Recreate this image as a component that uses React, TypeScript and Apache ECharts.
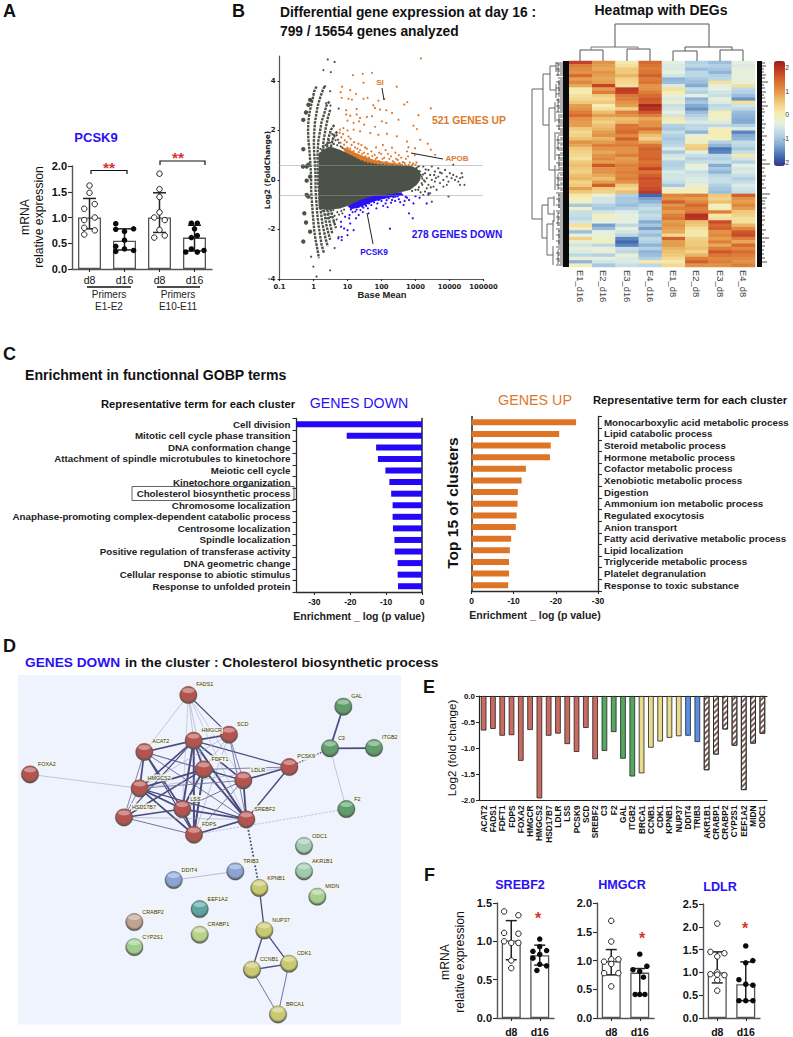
import React, { useEffect, useRef } from "react";
import * as echarts from "echarts";

const FONT = '"Liberation Sans", Arial, sans-serif';
const BLUE = "#2a10f5";
const ORANGE = "#dc7a2c";
const RED = "#d8352a";
const DARK = "#2b2b2b";

/* ---------- A ---------- */
const pcsk9Cats = ["d8", "d16", "d8", "d16"];
const pcsk9Bars = [1.0, 0.55, 1.0, 0.61];
const pcsk9Err = [[0.78, 1.37], [0.37, 0.78], [0.71, 1.48], [0.35, 0.85]];
const pcsk9Open = [[0, 1.62], [0, 1.48], [0.15, 1.26], [-0.15, 1.17], [0.15, 1.0], [-0.15, 0.95], [-0.15, 0.8], [0.15, 0.75], [-0.15, 0.67],
  [2, 1.85], [2, 1.55], [2, 1.4], [2, 1.1], [1.85, 1.0], [2.15, 0.95], [2, 0.76], [1.85, 0.61], [2.15, 0.65]];
const pcsk9Solid = [[0.75, 0.88], [0.75, 0.77], [1.26, 0.78], [1, 0.73], [1, 0.56], [0.75, 0.44], [0.75, 0.34], [1, 0.39], [1.26, 0.36],
  [2.91, 0.89], [3.08, 0.89], [3, 0.78], [2.91, 0.61], [3.08, 0.65], [2.91, 0.39], [2.75, 0.33], [3.08, 0.33], [3.27, 0.36]];

/* ---------- B : MA plot, [log10(baseMean), log2FC] ---------- */
const maTicks = ["0.1", "1", "10", "100", "1000", "10000", "100000"];
const cloudUpper = [[0.15, 1.08], [0.29, 1.22], [0.49, 1.35], [0.78, 1.22], [1.08, 1.01], [1.37, 0.81], [1.86, 0.65], [2.35, 0.61], [2.84, 0.57], [3.04, 0.47], [3.14, 0.27]];
const cloudLower = [[3.14, 0], [3.04, -0.2], [2.84, -0.41], [2.35, -0.57], [1.76, -0.65], [1.37, -0.81], [1.08, -1.01], [0.78, -1.15], [0.39, -1.22], [0.15, -1.15]];
const orangeWedge = [[0.85, 1.3], [1.0, 1.28], [1.2, 1.12], [1.5, 0.94], [1.8, 0.8], [2.2, 0.7], [2.6, 0.64], [2.6, 0.5], [1.5, 0.6], [1.0, 0.9]];
const blueWedge = [[1.0, -1.05], [1.1, -1.18], [1.3, -1.12], [1.5, -1.02], [1.8, -0.86], [2.2, -0.72], [2.6, -0.63], [2.6, -0.5], [1.5, -0.6]];
const streak1 = [[0.09, 3.77], [0.02, 3.57], [-0.03, 3.23], [-0.08, 2.96], [-0.12, 2.69], [-0.15, 2.36], [-0.16, 2.02], [-0.15, 1.62], [-0.12, 1.21], [-0.1, 0.81], [-0.08, 0.4], [-0.07, -0.03], [-0.07, -0.4], [-0.05, -0.81], [-0.03, -1.21], [-0.005, -1.62], [0.02, -2.02], [0.06, -2.42], [0.12, -2.83], [0.16, -3.16]];
const streak2 = [[0.32, 3.77], [0.24, 3.5], [0.16, 3.16], [0.12, 2.96], [0.08, 2.63], [0.04, 2.29], [0.02, 1.89], [0.01, 1.48], [0.02, 1.08], [0.04, 0.67], [0.06, 0.13], [0.06, -0.4], [0.08, -0.81], [0.11, -1.35], [0.14, -1.75], [0.19, -2.22], [0.24, -2.63], [0.31, -2.96]];
const streak3 = [[0.47, 3.16], [0.39, 3.03], [0.32, 2.69], [0.24, 2.36], [0.19, 1.95], [0.14, 1.55], [0.12, 1.08], [0.12, 0.54], [0.14, -0.13], [0.17, -0.67], [0.21, -1.21], [0.26, -1.75], [0.34, -2.29], [0.42, -2.69]];
const streak4 = [[0.49, 2.83], [0.42, 2.49], [0.36, 2.09], [0.3, 1.62], [0.26, 1.08], [0.26, 0.2], [0.26, -0.67], [0.32, -1.35], [0.39, -1.89], [0.49, -2.42]];
const streak5 = [[0.61, 2.22], [0.51, 2.02], [0.44, 1.68], [0.39, 1.21], [0.39, -1.08], [0.46, -1.62], [0.55, -2.15]];
const streak6 = [[0.7, 1.95], [0.6, 1.8], [0.53, 1.45], [0.5, 1.2], [0.5, -1.2], [0.57, -1.55], [0.66, -1.95]];
const maBlobs = [[-0.3, 1.24], [-0.31, 0.54], [-0.2, 0.54], [-0.15, 0.61], [-0.2, -0.03], [-0.2, -0.61], [-0.15, -0.67], [-0.27, -1.35], [-0.22, -1.72], [-0.1, -2.09], [-0.3, -2.49], [-0.3, 2.42], [-0.22, 2.72], [-0.15, 3.03], [-0.1, 3.23], [-0.1, 0.13]];
const maGrey = [
  [-0.07, -3.1], [-0.005, -3.5], [0.09, -3.9],
  [0.42, 4.86], [0.62, 4.76], [0.29, 4.43], [0.51, 4.35], [0.34, 3.78], [0.49, 3.58], [0.37, 3.1], [0.74, 2.88], [0.49, -3.65], [0.62, -2.75], [0.74, -2.3], [0.5, 3.0],
  [3.13, 0.34], [3.18, 0.13], [3.18, -0.13], [3.23, 0.54], [3.28, 0.27], [3.28, -0.07], [3.33, 0.07], [3.33, -0.34], [3.38, 0.4], [3.38, -0.2], [3.43, 0.2], [3.43, -0.54], [3.48, 0.54], [3.48, 0], [3.53, -0.27], [3.57, 0.34], [3.57, -0.07], [3.62, -0.4], [3.67, 0.47], [3.67, 0.13], [3.72, -0.13], [3.77, 0.27], [3.82, 0], [3.82, -0.27], [3.87, 0.4], [3.92, 0.13], [3.97, -0.07], [4.01, 0.27], [4.06, 0.07], [4.11, 0.61], [4.11, 0.2], [4.16, 0], [4.21, 0.13], [4.26, -0.07], [4.31, 0.07], [4.36, 0.27], [4.38, 0.11], [4.44, -0.2], [4.31, -0.2], [3.97, -0.67], [3.48, -0.88], [3.38, -0.54], [3.28, -0.47], [3.23, -0.61], [3.1, 0.55], [3.15, -0.5], [3.55, 0.2], [3.72, 0.3], [3.92, -0.2], [3.3, 0.42], [3.6, 0.08], [3.45, -0.3],
  [0.55, 1.55], [0.6, 1.45], [0.65, 1.6], [0.7, 1.4], [0.75, 1.5], [0.8, 1.35], [0.85, 1.3], [0.45, 1.6], [0.4, 1.45], [0.35, 1.4], [0.55, 1.85], [0.62, 1.75], [0.68, 1.8], [0.48, 1.5], [0.58, 1.65], [0.72, 1.62], [0.3, 1.3], [0.25, 1.2], [0.2, 1.25], [0.27, -1.25], [0.22, -1.3],
  [0.45, -1.35], [0.5, -1.5], [0.55, -1.35], [0.62, -1.45], [0.7, -1.3], [0.75, -1.4], [0.82, -1.25], [0.9, -1.2], [0.6, -1.7], [0.68, -1.6], [0.36, -1.4], [0.4, -1.55], [0.58, -1.22], [0.85, -1.35],
  [2.9, 0.5], [3.0, 0.45], [3.1, 0.35], [3.15, 0.2], [3.2, 0.05], [3.2, -0.2], [3.1, -0.3], [3.0, -0.4], [2.9, -0.45], [3.05, 0.5], [3.12, 0.1], [3.22, 0.22], [3.25, -0.02], [3.08, -0.4]
];
const maOrange = [[3.16, 4.9], [1.16, 4.23], [1.45, 4.28], [1.72, 4.32], [1.47, 3.92], [2.45, 3.76], [0.84, 3.76], [0.8, 3.54], [1.08, 3.62], [1.25, 3.47], [0.83, 3.31], [1.03, 3.27], [1.13, 3.24], [1.47, 3.27], [1.59, 3.31], [1.91, 3.2], [2.08, 3.27], [2.67, 3.04], [2.76, 3.14], [1.76, 3.01], [1.81, 2.9], [1.96, 2.84], [2.14, 2.81], [2.31, 2.7], [3.45, 2.89], [3.09, 2.61], [0.96, 2.81], [1.27, 2.86], [0.96, 2.64], [1.08, 2.59], [1.27, 2.64], [1.37, 2.5], [1.57, 2.54], [1.72, 2.57], [2.01, 2.36], [2.14, 2.3], [2.5, 2.43], [2.94, 2.19], [3.04, 2.05], [1.0, 2.39], [1.18, 2.3], [1.34, 2.36], [1.49, 2.23], [1.81, 2.14], [0.78, 2.03], [0.88, 2.09], [1.0, 2.0], [1.18, 2.03], [1.37, 1.96], [1.67, 1.89], [1.91, 1.82], [2.16, 1.86], [2.45, 1.76], [2.75, 1.55], [3.14, 1.62], [3.36, 1.46], [3.45, 1.22], [3.58, 1.01], [2.99, 1.28], [2.79, 1.32], [2.75, 1.15],
  [0.8, 1.5], [0.82, 1.72], [0.77, 1.9], [0.9, 1.42], [0.92, 1.6], [0.87, 1.85], [1.0, 1.3], [0.98, 1.52], [1.03, 1.75], [1.1, 1.12], [1.08, 1.26], [1.12, 1.41], [1.09, 1.66], [1.2, 1.02], [1.18, 1.16], [1.22, 1.31], [1.19, 1.52], [1.3, 0.91], [1.27, 1.01], [1.33, 1.12], [1.29, 1.26], [1.32, 1.46], [1.4, 0.82], [1.38, 0.91], [1.43, 1.05], [1.37, 1.2], [1.41, 1.41], [1.5, 0.76], [1.47, 0.86], [1.53, 0.95], [1.49, 1.1], [1.52, 1.31], [1.6, 0.72], [1.58, 0.81], [1.63, 0.9], [1.6, 1.05], [1.57, 1.26], [1.7, 0.7], [1.68, 0.8], [1.73, 0.96], [1.7, 1.15], [1.8, 0.68], [1.78, 0.75], [1.83, 0.85], [1.8, 1.01], [1.84, 1.31], [1.9, 0.66], [1.92, 0.76], [1.87, 0.9], [1.93, 1.1], [2.0, 0.65], [1.98, 0.72], [2.03, 0.85], [1.99, 1.05], [2.04, 1.41], [2.1, 0.64], [2.13, 0.72], [2.08, 0.9], [2.12, 1.2], [2.2, 0.63], [2.18, 0.7], [2.23, 0.85], [2.19, 1.05], [2.3, 0.63], [2.33, 0.75], [2.28, 0.95], [2.31, 1.3], [2.4, 0.62], [2.38, 0.7], [2.43, 0.85], [2.41, 1.1], [2.5, 0.62], [2.53, 0.68], [2.48, 0.8], [2.51, 1.0], [2.6, 0.62], [2.63, 0.72], [2.58, 0.9], [2.7, 0.6], [2.68, 0.68], [2.72, 0.85], [2.8, 0.6], [2.83, 0.7], [2.78, 0.95], [2.9, 0.6], [2.93, 0.66], [3.0, 0.6], [3.03, 0.7], [2.98, 1.0]];
const maBlue = [[0.81, -1.69], [0.81, -1.89], [0.9, -1.96], [1.0, -2.03], [0.83, -2.3], [1.0, -2.23], [0.73, -2.36], [0.83, -2.43], [1.18, -2.03], [1.08, -1.76], [0.93, -1.49], [1.06, -1.42], [1.23, -1.28], [1.33, -1.42], [1.43, -1.08], [1.53, -1.01], [1.63, -0.95], [1.72, -0.81], [1.82, -0.68], [1.92, -0.81], [2.02, -0.7], [2.12, -0.95], [2.21, -0.74], [2.31, -0.81], [2.41, -0.68], [2.51, -0.78], [2.61, -0.61], [2.71, -0.68], [2.81, -0.81], [2.94, -0.95], [2.65, -1.01], [2.81, -1.35], [2.92, -1.55], [3.33, -0.95], [3.38, -0.61], [2.25, -1.97], [3.0, -0.66], [3.12, -0.72],
  [1.1, -1.2], [1.15, -1.3], [1.2, -1.1], [1.25, -1.05], [1.27, -1.2], [1.3, -0.95], [1.32, -1.1], [1.35, -0.9], [1.38, -1.0], [1.38, -1.22], [1.42, -0.85], [1.45, -0.95], [1.47, -1.12], [1.5, -0.82], [1.52, -0.92], [1.55, -1.05], [1.57, -0.78], [1.6, -0.88], [1.6, -1.15], [1.65, -0.75], [1.68, -0.85], [1.7, -1.02], [1.75, -0.72], [1.78, -0.9], [1.85, -0.75], [1.88, -0.95], [1.95, -0.68], [2.0, -0.85], [2.05, -1.05], [2.08, -0.72], [2.15, -0.82], [2.18, -1.1], [2.25, -0.66], [2.28, -0.92], [2.35, -0.7], [2.4, -0.85], [2.48, -0.66], [2.55, -0.9], [2.68, -0.85], [2.75, -0.72], [1.05, -1.55], [1.25, -1.55], [1.45, -1.3], [1.85, -1.15], [1.62, -1.35]];

/* ---------- B : heatmap ---------- */
const hmCols = ["E1_d16", "E2_d16", "E3_d16", "E4_d16", "E1_d8", "E2_d8", "E3_d8", "E4_d8"];
const hmRows = [
  [1.8, 1.0, 0.1, 1.4, -0.4, -0.9, -1.1, -0.4], [1.2, 0.9, 0.2, 1.3, -0.5, -0.8, -0.9, -0.5], [1.1, 0.8, 0.5, 1.2, -0.5, -1.1, -1.0, -0.3], [1.0, 1.0, 0.5, 1.3, -0.4, -0.8, -1.2, -0.4],
  [1.4, 0.9, 0.7, 1.5, -0.6, -0.8, -0.9, -0.3], [0.9, 0.8, 0.4, 1.2, -1.2, -1.0, -0.8, -0.4], [1.1, 0.9, 0.3, 1.3, -1.1, -1.1, 0.2, -0.3], [0.8, 1.8, 0.2, 1.0, -0.5, -1.3, -0.3, 0.2],
  [0.1, 0.9, 1.9, 1.0, 0.2, -0.7, -0.4, -0.8], [0.0, 1.2, 1.8, 1.2, 0.0, -0.9, -0.6, -0.9], [0.2, 0.5, 1.3, 1.4, -0.3, -0.4, -0.7, -1.1], [0.3, 0.3, 1.2, 1.6, -0.5, -1.2, -0.3, -1.5],
  [0.5, 0.5, 1.0, 1.5, -0.2, -1.0, -0.5, 0.2], [0.9, 0.0, 0.9, 2.1, -0.7, -1.3, -0.8, -0.6], [1.0, 0.2, 0.4, 2.0, -0.6, -1.5, -0.7, -0.8], [1.2, 0.6, 1.2, 1.6, -0.3, -1.1, 0.0, -1.1],
  [1.4, 0.9, 1.0, 1.2, -0.6, -0.9, -0.2, -1.2], [1.0, 0.6, 0.6, 0.8, 0.1, -0.7, -0.1, -1.3], [0.9, 0.4, 0.7, 1.0, -0.2, -0.5, -0.5, -1.3], [0.9, 0.6, 1.3, 1.0, -0.9, -0.8, -0.8, -0.9],
  [0.5, 0.7, 1.3, 1.4, -1.0, -0.8, -0.1, -0.5], [0.3, 0.9, 1.4, 0.9, -0.7, -1.2, 0.0, -1.6], [0.4, 1.0, 1.1, 0.6, -0.9, -0.3, 0.0, -1.3], [0.6, 0.7, 1.5, 0.4, -1.0, -0.1, -0.1, -1.2],
  [1.0, 0.9, 1.1, 0.8, -0.9, -0.2, -0.9, -0.7], [0.8, 1.2, 1.2, 1.3, -0.8, 0.4, -1.2, -0.8], [0.5, 1.0, 1.0, 1.5, -0.5, 0.5, -1.7, -1.0], [0.4, 0.8, 1.0, 1.4, -1.0, -0.4, -1.6, -0.7],
  [0.3, 1.0, 1.2, 1.4, -0.6, -0.7, -0.8, 0.1], [0.2, 1.1, 0.9, 1.5, -0.5, -0.9, -0.9, -0.6], [0.5, 0.9, 1.0, 1.3, -0.9, -0.7, -0.7, -0.9], [0.6, 1.6, 1.2, 1.4, -0.9, -0.3, -1.3, -0.4],
  [0.5, 1.0, 1.1, 1.8, -0.8, -0.4, -1.0, -0.6], [0.4, 1.0, 1.2, 1.3, -0.5, -0.7, -1.2, -0.5], [0.6, 0.8, 1.1, 1.5, -0.6, -0.6, -0.8, -0.7], [0.7, 0.6, 1.2, 1.7, -0.6, -0.5, -0.7, -0.9],
  [0.4, 0.9, 1.0, 1.6, -0.7, -0.5, -0.7, -0.7], [0.5, 1.5, 0.5, 1.6, -1.0, -0.3, -0.9, -0.5], [0.9, 0.5, 0.3, 1.7, -0.3, 0.0, -1.0, -0.6], [0.5, 0.4, 0.6, 1.9, 0.0, -0.1, -1.1, -0.7],
  [0.1, -0.3, -0.9, -1.8, 1.1, 1.2, 0.5, 1.5], [-0.1, -0.6, -1.0, -1.4, 1.0, 0.9, 0.4, 1.0], [-0.1, -0.6, -1.0, -1.2, 1.5, 1.1, 0.6, 0.9], [-1.0, -0.9, -1.1, -0.9, 1.0, 1.4, -0.1, 1.1],
  [-0.2, -1.0, -0.9, -0.7, 1.2, 1.2, 0.0, 0.9], [-0.7, -0.6, -0.5, -0.9, 0.9, 1.3, 1.2, 0.5], [-0.7, -0.1, -0.4, -0.7, 1.2, 2.0, 0.1, 0.4], [-0.8, -0.2, -0.3, -0.8, 1.3, 1.9, 0.2, 0.2],
  [-0.6, -0.4, -0.4, -1.3, 0.9, 0.6, 1.7, 0.2], [0.2, -1.4, -0.8, -1.0, 1.0, 0.5, 1.4, 0.7], [-0.1, -1.1, -0.3, -1.4, 0.9, 0.2, 1.5, 1.1], [-1.1, -0.4, -0.6, -0.9, 0.8, 0.1, 1.0, 1.6],
  [-0.4, -0.3, -0.8, -1.1, 0.3, 0.1, 1.1, 1.7], [0.4, -0.2, -1.6, -0.8, 1.5, 0.4, 0.9, 1.2], [-0.3, -0.1, -1.8, -0.9, 0.9, 0.5, 1.2, 0.8], [-0.6, -0.8, -1.6, -1.2, 0.9, 0.5, 0.8, 1.4],
  [-0.3, -0.4, -0.7, -0.9, 0.7, 0.6, 1.2, 1.1], [-0.5, -0.2, -0.8, -1.2, 0.6, 0.4, 1.6, 1.4], [-0.8, -0.9, -0.3, -1.1, 0.5, 0.7, 1.3, 1.2], [-0.3, -0.4, -0.5, -0.9, 0.3, 1.2, 1.1, 1.1],
  [-1.2, -0.6, -0.5, 0.1, 0.1, 1.5, 1.2, 1.0], [-0.1, -1.0, -0.7, -0.8, 0.3, 1.0, 1.0, 1.2]
];
const hmScale = ["#2b3590", "#4670b2", "#84abd2", "#b7d4e5", "#e3f0e4", "#f6edb0", "#f1cd80", "#e49c4c", "#d96f30", "#c44026", "#a01c1c"];
const hmScaleTicks = ["2", "1", "0", "-1", "-2"];

/* ---------- C ---------- */
const downTerms = ["Cell division", "Mitotic cell cycle phase transition", "DNA conformation change", "Attachment of spindle microtubules to kinetochore", "Meiotic cell cycle", "Kinetochore organization", "Cholesterol biosynthetic process", "Chromosome localization", "Anaphase-promoting complex-dependent catabolic process", "Centrosome localization", "Spindle localization", "Positive regulation of transferase activity", "DNA geometric change", "Cellular response to abiotic stimulus", "Response to unfolded protein"];
const downValues = [-35, -21, -12.8, -12.3, -10.2, -9.1, -8.6, -8.2, -8.2, -8.1, -7.7, -7.6, -6.8, -6.8, -6.7];
const upTerms = ["Monocarboxylic acid metabolic process", "Lipid catabolic process", "Steroid metabolic process", "Hormone metabolic process", "Cofactor metabolic process", "Xenobiotic metabolic process", "Digestion", "Ammonium ion metabolic process", "Regulated exocytosis", "Anion transport", "Fatty acid derivative metabolic process", "Lipid localization", "Triglyceride metabolic process", "Platelet degranulation", "Response to toxic substance"];
const upValues = [-24.8, -20.8, -18.8, -18.6, -12.9, -11.9, -11, -10.9, -10.7, -10.5, -9.4, -9.1, -8.9, -8.9, -8.7];

/* ---------- D ---------- */
const netNodes: [string, number, number, string][] = [
  ["FADS1", 565, 165, "#b4534f"], ["SCD", 687, 284, "#b4534f"], ["HMGCR", 581, 302, "#b4534f"], ["ACAT2", 433, 336, "#b4534f"], ["FDFT1", 611, 388, "#b4534f"], ["LDLR", 730, 421, "#b4534f"], ["PCSK9", 868, 381, "#b4534f"], ["HMGCS2", 419, 445, "#b4534f"], ["FOXA2", 90, 403, "#b4534f"], ["LSS", 547, 507, "#b4534f"], ["HSD17B7", 372, 532, "#b4534f"], ["SREBF2", 739, 538, "#b4534f"], ["FDPS", 582, 584, "#b4534f"],
  ["GAL", 1030, 200, "#5f9e6c"], ["C3", 990, 325, "#5f9e6c"], ["ITGB2", 1122, 324, "#5f9e6c"], ["F2", 1039, 507, "#5f9e6c"],
  ["ODC1", 912, 618, "#a2cdb2"], ["AKR1B1", 912, 694, "#9fcbaa"], ["MIDN", 952, 770, "#a6cf90"],
  ["TRIB3", 706, 694, "#8aa4d8"], ["DDIT4", 521, 720, "#8aa4d8"],
  ["KPNB1", 778, 744, "#c9c96f"], ["NUP37", 793, 871, "#c9c96f"], ["CCNB1", 756, 989, "#c9c96f"], ["CDK1", 867, 971, "#c9c96f"], ["BRCA1", 834, 1123, "#c9c96f"],
  ["EEF1A2", 599, 807, "#5ba5a3"], ["CRABP2", 403, 846, "#c0a392"], ["CRABP1", 599, 884, "#b9d18b"], ["CYP2S1", 403, 921, "#9fcf8f"]
];
const netEdges: [string, string, number, string?][] = [
  ["ACAT2", "HMGCR", 1.7], ["ACAT2", "HMGCS2", 1.7], ["ACAT2", "HSD17B7", 0.9], ["ACAT2", "LSS", 1.7], ["ACAT2", "FDFT1", 0.9], ["ACAT2", "FDPS", 1.2], ["ACAT2", "LDLR", 0.9], ["ACAT2", "SREBF2", 1],
  ["HMGCR", "SCD", 1.7], ["HMGCR", "FDFT1", 1.7], ["HMGCR", "LSS", 2], ["HMGCR", "LDLR", 1.7], ["HMGCR", "SREBF2", 2], ["HMGCR", "HMGCS2", 1.7], ["HMGCR", "HSD17B7", 1.2], ["HMGCR", "FDPS", 2], ["HMGCR", "PCSK9", 1.2], ["HMGCR", "FADS1", 0.6],
  ["FADS1", "SCD", 1.2], ["FADS1", "ACAT2", 0.6], ["FADS1", "FDFT1", 0.6], ["FADS1", "LDLR", 0.5], ["FADS1", "SREBF2", 0.5], ["FADS1", "LSS", 0.5],
  ["SCD", "LDLR", 0.9], ["SCD", "SREBF2", 0.9], ["SCD", "FDFT1", 0.6], ["SCD", "FDPS", 0.6], ["SCD", "HMGCS2", 0.6],
  ["FDFT1", "LSS", 2], ["FDFT1", "FDPS", 2], ["FDFT1", "HMGCS2", 1.7], ["FDFT1", "HSD17B7", 1.7], ["FDFT1", "SREBF2", 2], ["FDFT1", "LDLR", 1.2], ["FDFT1", "PCSK9", 0.9],
  ["HMGCS2", "LSS", 1.7], ["HMGCS2", "FDPS", 1.7], ["HMGCS2", "SREBF2", 1.2], ["HMGCS2", "HSD17B7", 0.9], ["HMGCS2", "LDLR", 0.9], ["HMGCS2", "PCSK9", 0.6],
  ["HSD17B7", "LSS", 1.5], ["HSD17B7", "FDPS", 1], ["HSD17B7", "SREBF2", 0.6], ["LSS", "FDPS", 2], ["LSS", "SREBF2", 1.7], ["LSS", "LDLR", 1],
  ["LDLR", "PCSK9", 1.7], ["LDLR", "SREBF2", 1.8], ["LDLR", "FDPS", 0.9], ["PCSK9", "SREBF2", 1.5], ["FDPS", "SREBF2", 1.7], ["FOXA2", "HMGCS2", 0.6],
  ["PCSK9", "C3", 1.4, "dotted"], ["C3", "GAL", 1.7], ["C3", "ITGB2", 1.7], ["C3", "F2", 0.6], ["FDPS", "F2", 0.6, "dashed"], ["SREBF2", "KPNB1", 1.8, "dotted"], ["TRIB3", "DDIT4", 0.7],
  ["KPNB1", "NUP37", 1.3], ["NUP37", "CCNB1", 1.3], ["NUP37", "CDK1", 1.3], ["CCNB1", "CDK1", 1.3], ["CCNB1", "BRCA1", 1], ["CDK1", "BRCA1", 1]
];

/* ---------- E ---------- */
const fcGenes = ["ACAT2", "FADS1", "FDFT1", "FDPS", "FOXA2", "HMGCR", "HMGCS2", "HSD17B7", "LDLR", "LSS", "PCSK9", "SCD", "SREBF2", "C3", "F2", "GAL", "ITGB2", "BRCA1", "CCNB1", "CDK1", "KPNB1", "NUP37", "DDIT4", "TRIB3", "AKR1B1", "CRABP1", "CRABP2", "CYP2S1", "EEF1A2", "MIDN", "ODC1"];
const fcValues = [-0.66, -0.63, -0.76, -0.75, -1.24, -0.65, -1.96, -0.76, -0.72, -0.92, -1.07, -0.61, -1.21, -1.05, -0.69, -1.2, -1.54, -1.48, -0.99, -0.87, -0.8, -0.77, -0.76, -0.88, -1.42, -1.12, -0.64, -0.95, -1.8, -0.91, -0.72];
const fcGroupSizes = [13, 4, 5, 2, 7];
const fcGroupColors = ["#c96b60", "#55a860", "#e8dc8c", "#5b90e6", "#ffffff"];

/* ---------- F ---------- */
const srebf2Bars = [1.01, 0.82];
const srebf2Err = [[0.76, 1.27], [0.69, 0.95]];
const srebf2Open = [[-0.25, 1.39], [0.25, 1.34], [-0.25, 1.11], [0.25, 1.1], [-0.25, 1.0], [0.25, 0.98], [0, 0.98], [0, 0.75], [0, 0.65]];
const srebf2Solid = [[1, 1.03], [0.76, 0.87], [1.24, 0.88], [1, 0.93], [1, 0.83], [0.76, 0.78], [1, 0.7], [1.24, 0.68], [0.9, 0.62]];
const hmgcrBars = [0.99, 0.79];
const hmgcrErr = [[0.75, 1.19], [0.4, 0.86]];
const hmgcrOpen = [[0, 1.69], [0, 1.33], [0, 1.02], [-0.25, 0.98], [0.25, 1.02], [0, 0.94], [-0.25, 0.78], [0.25, 0.78], [0, 0.55]];
const hmgcrSolid = [[1, 1.11], [1.25, 0.9], [0.76, 0.84], [1, 0.81], [1.13, 0.71], [0.84, 0.41], [1, 0.41], [1.18, 0.41]];
const ldlrBars = [1.0, 0.74];
const ldlrErr = [[0.77, 1.45], [0.38, 1.23]];
const ldlrOpen = [[0, 2.07], [-0.24, 1.45], [0.25, 1.42], [0, 1.35], [0, 1.0], [-0.24, 0.96], [0, 0.95], [0.25, 0.94], [0, 0.83], [0, 0.6]];
const ldlrSolid = [[1, 1.58], [1.25, 1.26], [1, 1.21], [0.76, 0.84], [1, 0.74], [1.25, 0.72], [0.76, 0.38], [1, 0.38], [1.25, 0.38]];

/* ---------- layout helpers ---------- */
const graphic: any[] = [];
function txt(text: string, x: number, y: number, size: number, fill = "#111", bold = true, align = "left", rotation = 0) {
  graphic.push({
    type: "text", x, y, rotation, z: 60, silent: true,
    style: { text, fill, font: `${bold ? "bold " : ""}${size}px ${FONT}`, textAlign: align, textVerticalAlign: "middle" },
  });
}
function seg(points: number[][], stroke = "#111", lineWidth = 1) {
  graphic.push({ type: "polyline", z: 55, silent: true, shape: { points }, style: { stroke, lineWidth, fill: "none" } });
}

const grids: any[] = [], xAxes: any[] = [], yAxes: any[] = [], series: any[] = [];
function addGrid(left: number, top: number, width: number, height: number, extra: any = {}) {
  grids.push({ left, top, width, height, containLabel: false, ...extra });
  return grids.length - 1;
}
const axisLine = { show: true, onZero: false, lineStyle: { color: DARK, width: 1.3 } };
const axisTick = { show: true, length: 3, lineStyle: { color: DARK, width: 1.1 } };

function dotPanel(cfg: {
  rect: number[]; cats: string[]; bars: number[]; err: number[][]; open: number[][]; solid: number[][];
  max: number; interval: number; catBold: boolean; catSize: number; catMargin: number; barW: number; capPx: number; sym: number;
}) {
  const g = addGrid(cfg.rect[0], cfg.rect[1], cfg.rect[2], cfg.rect[3]);
  const xCat = xAxes.length;
  xAxes.push({
    type: "category", gridIndex: g, data: cfg.cats, axisLine: { ...axisLine, lineStyle: { color: "#555", width: 1.4 } },
    axisTick: { ...axisTick, alignWithLabel: true }, axisLabel: { fontFamily: FONT, fontSize: cfg.catSize, fontWeight: cfg.catBold ? "bold" : "normal", color: "#111", margin: cfg.catMargin, interval: 0 },
  });
  const xVal = xAxes.length;
  xAxes.push({ type: "value", gridIndex: g, min: -0.5, max: cfg.cats.length - 0.5, show: false });
  const y = yAxes.length;
  yAxes.push({
    type: "value", gridIndex: g, min: 0, max: cfg.max, interval: cfg.interval, splitLine: { show: false },
    axisLine: { ...axisLine, lineStyle: { color: "#555", width: 1.4 } }, axisTick: { ...axisTick, length: 4 },
    axisLabel: { fontFamily: FONT, fontSize: 11, fontWeight: "bold", color: "#111", margin: 5, formatter: (v: number) => v.toFixed(1) },
  });
  series.push({
    type: "bar", xAxisIndex: xCat, yAxisIndex: y, data: cfg.bars, barWidth: cfg.barW, silent: true,
    itemStyle: { color: "#fff", borderColor: "#555", borderWidth: 1.3 },
  });
  series.push({
    type: "custom", xAxisIndex: xVal, yAxisIndex: y, silent: true, z: 5, clip: false,
    data: cfg.err.map((e, i) => [i, e[0], e[1]]), encode: { x: 0, y: [1, 2] },
    renderItem: (_p: any, api: any) => {
      const a = api.coord([api.value(0), api.value(1)]);
      const b = api.coord([api.value(0), api.value(2)]);
      const st = { stroke: "#222", lineWidth: 1.5 };
      const c = cfg.capPx / 2;
      return {
        type: "group", children: [
          { type: "line", shape: { x1: a[0], y1: a[1], x2: b[0], y2: b[1] }, style: st },
          { type: "line", shape: { x1: a[0] - c, y1: a[1], x2: a[0] + c, y2: a[1] }, style: st },
          { type: "line", shape: { x1: b[0] - c, y1: b[1], x2: b[0] + c, y2: b[1] }, style: st },
        ],
      };
    },
  });
  series.push({ type: "scatter", xAxisIndex: xVal, yAxisIndex: y, z: 6, silent: true, data: cfg.open, symbolSize: cfg.sym, itemStyle: { color: "#fff", borderColor: "#222", borderWidth: 1, opacity: 1 } });
  series.push({ type: "scatter", xAxisIndex: xVal, yAxisIndex: y, z: 6, silent: true, data: cfg.solid, symbolSize: cfg.sym, itemStyle: { color: "#0a0a0a", opacity: 1 } });
}

function enrichPanel(rect: number[], terms: string[], values: number[], color: string, side: "left" | "right", min: number) {
  const g = addGrid(rect[0], rect[1], rect[2], rect[3]);
  const x = xAxes.length;
  const ticks = side === "left" ? [-30, -20, -10, 0] : [0, -10, -20, -30];
  xAxes.push({
    type: "value", gridIndex: g, min, max: 0, inverse: side === "right", splitLine: { show: false }, axisLine,
    axisTick: { ...axisTick, customValues: ticks },
    axisLabel: { customValues: ticks, fontFamily: FONT, fontSize: 8.5, fontWeight: "bold", color: "#111", margin: 5, hideOverlap: false },
  });
  const y = yAxes.length;
  yAxes.push({
    type: "category", gridIndex: g, data: terms, inverse: true, position: side, axisLine, axisTick: { ...axisTick, alignWithLabel: false, length: 4, interval: 0 },
    axisLabel: { fontFamily: FONT, fontSize: 9.75, fontWeight: "bold", color: "#222", margin: 6, interval: 0 },
  });
  yAxes.push({
    type: "category", gridIndex: g, data: terms, inverse: true, position: side === "left" ? "right" : "left",
    axisLine: { ...axisLine, lineStyle: { color: "#222", width: 1.5 } }, axisTick: { show: false }, axisLabel: { show: false },
  });
  series.push({ type: "bar", xAxisIndex: x, yAxisIndex: y, data: values, barWidth: 6, silent: true, itemStyle: { color } });
}

function buildOption() {
  /* A */
  dotPanel({ rect: [72, 166, 140, 103], cats: pcsk9Cats, bars: pcsk9Bars, err: pcsk9Err, open: pcsk9Open, solid: pcsk9Solid, max: 2, interval: 0.5, catBold: false, catSize: 10.5, catMargin: 5, barW: 23, capPx: 13, sym: 5.5 });
  txt("A", 3, 11, 18);
  txt("PCSK9", 96, 137, 13, BLUE, true, "center");
  txt("mRNA", 25, 217, 12.2, "#111", false, "center", Math.PI / 2);
  txt("relative expression", 39, 217, 12.2, "#111", false, "center", Math.PI / 2);
  txt("**", 109, 167, 15.5, RED, true, "center");
  txt("**", 178, 157, 15.5, RED, true, "center");
  seg([[91, 174], [91, 170.5], [127, 170.5], [127, 174]], "#111", 1.2);
  seg([[160, 165], [160, 161], [205, 161], [205, 165]], "#111", 1.2);
  seg([[87, 287], [131, 287]], "#111", 1.4);
  seg([[157, 287], [200, 287]], "#111", 1.4);
  txt("Primers", 109, 294.5, 10, "#222", false, "center");
  txt("E1-E2", 109, 306, 10, "#222", false, "center");
  txt("Primers", 178, 294.5, 10, "#222", false, "center");
  txt("E10-E11", 178, 306, 10, "#222", false, "center");

  /* B title */
  txt("B", 232, 11, 18);
  txt("Differential gene expression at day 16 :", 280, 12, 13.8);
  txt("799 / 15654 genes analyzed", 280, 31, 13.8);
  txt("Heatmap with DEGs", 661, 10, 14, "#111", true, "center");

  /* MA */
  const gMa = addGrid(279.5, 56, 204, 223);
  const xMa = xAxes.length;
  xAxes.push({
    type: "value", gridIndex: gMa, min: -1, max: 5, interval: 1, splitLine: { show: false },
    axisLine: { ...axisLine, lineStyle: { color: "#555", width: 1.2 } }, axisTick: { ...axisTick, length: 2 },
    axisLabel: { fontFamily: "DejaVu Sans", fontSize: 6.8, fontWeight: "bold", color: "#222", margin: 4, formatter: (v: number) => maTicks[v + 1] },
  });
  const yMa = yAxes.length;
  yAxes.push({
    type: "value", gridIndex: gMa, min: -4, max: 5, interval: 2, splitLine: { show: false },
    axisLine: { ...axisLine, lineStyle: { color: "#555", width: 1.2 } }, axisTick: { ...axisTick, length: 2 },
    axisLabel: { fontFamily: "DejaVu Sans", fontSize: 7, fontWeight: "bold", color: "#222", margin: 4, showMaxLabel: false },
  });
  const poly = (pts: number[][], fill: string, z: number) =>
    series.push({
      type: "custom", xAxisIndex: xMa, yAxisIndex: yMa, silent: true, z, data: [[1, 0]], encode: { x: 0, y: 1 },
      renderItem: (_p: any, api: any) => ({ type: "polygon", shape: { points: pts.map((p) => api.coord(p)) }, style: { fill } }),
    });
  poly(orangeWedge, ORANGE, 1);
  poly(blueWedge, BLUE, 1);
  poly([...cloudUpper, ...cloudLower], "#4d5249", 2);
  [streak1, streak2, streak3, streak4, streak5, streak6].forEach((s) =>
    series.push({
      type: "line", xAxisIndex: xMa, yAxisIndex: yMa, silent: true, z: 3, data: s, showSymbol: false, symbol: "none", smooth: false,
      lineStyle: { color: "#4d5249", width: 2.4, type: [2.6, 1] },
    })
  );
  const pt = (data: number[][], size: number, color: string, z: number) =>
    series.push({ type: "scatter", xAxisIndex: xMa, yAxisIndex: yMa, silent: true, z, data, symbolSize: size, itemStyle: { color, opacity: 1 } });
  pt(maBlobs, 4.4, "#4d5249", 3);
  pt(maGrey, 2.2, "#4d5249", 3);
  pt(maOrange, 2.2, ORANGE, 4);
  pt(maBlue, 2.2, BLUE, 4);
  series.push({
    type: "scatter", xAxisIndex: xMa, yAxisIndex: yMa, silent: true, z: 5, data: [],
    markLine: { silent: true, symbol: "none", label: { show: false }, lineStyle: { color: "#999", type: "dotted", width: 1 }, data: [{ yAxis: 0.6 }, { yAxis: -0.6 }] },
  });
  txt("Base Mean", 382, 294, 9.4, "#222", true, "center");
  graphic.push({ type: "text", x: 267, y: 170, rotation: Math.PI / 2, z: 60, silent: true, style: { text: "Log2 (FoldChange)", fill: "#222", font: "bold 7.4px DejaVu Sans", textAlign: "center", textVerticalAlign: "middle" } });
  txt("521 GENES UP", 469, 120, 10.4, ORANGE, true, "center");
  txt("278 GENES DOWN", 457, 234, 10.2, BLUE, true, "center");
  txt("PCSK9", 374, 252, 8.3, BLUE, true, "center");
  txt("APOB", 457, 158, 8, ORANGE, true, "center");
  txt("SI", 380, 82, 8, ORANGE, true, "center");
  seg([[382, 88], [384, 100]], "#222", 1);
  seg([[411, 153], [443, 159]], "#222", 1);
  seg([[367, 213], [373, 244]], "#222", 1);

  /* heatmap */
  const gHm = addGrid(569, 61, 186, 206);
  const xHm = xAxes.length;
  xAxes.push({ type: "category", gridIndex: gHm, data: hmCols, axisLine: { show: false }, axisTick: { show: false }, splitArea: { show: false }, axisLabel: { rotate: -90, fontFamily: FONT, fontSize: 9.4, color: "#444", margin: 3, interval: 0 } });
  const yHm = yAxes.length;
  yAxes.push({ type: "category", gridIndex: gHm, data: hmRows.map((_, i) => String(i)), inverse: true, show: false });
  const hmIndex = series.length;
  series.push({
    type: "heatmap", xAxisIndex: xHm, yAxisIndex: yHm, silent: true,
    data: hmRows.flatMap((r, y) => r.map((v, x) => [x, y, v])), itemStyle: { borderWidth: 0 }, progressive: 0,
  });
  seg([[580, 61], [580, 50], [603, 50], [603, 61]], "#555", 1);
  seg([[627, 61], [627, 49], [650, 49], [650, 61]], "#555", 1);
  seg([[591, 50], [591, 47], [638, 47], [638, 49]], "#777", 1);
  seg([[615, 47], [615, 24], [709, 24], [709, 47]], "#555", 1);
  seg([[673, 61], [673, 51], [697, 51], [697, 61]], "#555", 1);
  seg([[720, 61], [720, 50], [743, 50], [743, 61]], "#555", 1);
  seg([[685, 51], [685, 47], [732, 47], [732, 50]], "#555", 1);
  graphic.push({ type: "rect", z: 55, silent: true, shape: { x: 563, y: 61, width: 6, height: 206 }, style: { fill: "#0a0a0a" } });
  graphic.push({ type: "rect", z: 55, silent: true, shape: { x: 757, y: 61, width: 5, height: 206 }, style: { fill: "#0a0a0a" } });
  const leftTree = [
    [[532, 89], [532, 219]], [[532, 89], [543, 89]], [[532, 219], [542, 219]], [[543, 74], [543, 125]], [[542, 205], [542, 238]], [[543, 74], [550, 74]], [[543, 125], [549, 125]], [[542, 205], [548, 205]], [[542, 238], [547, 238]],
    [[550, 66], [550, 90]], [[549, 108], [549, 170]], [[548, 198], [548, 214]], [[547, 224], [547, 255]], [[550, 66], [556, 66]], [[550, 90], [556, 90]], [[549, 108], [555, 108]], [[549, 170], [555, 170]], [[548, 198], [554, 198]], [[548, 214], [554, 214]], [[547, 224], [553, 224]], [[547, 255], [553, 255]],
    [[556, 62], [556, 72]], [[556, 84], [556, 98]], [[555, 102], [555, 122]], [[555, 132], [555, 160]], [[555, 165], [555, 190]], [[554, 196], [554, 206]], [[554, 210], [554, 222]], [[553, 220], [553, 240]], [[553, 246], [553, 265]],
    [[558, 63], [558, 76]], [[559, 80], [559, 94]], [[558, 98], [558, 112]], [[559, 116], [559, 130]], [[558, 136], [558, 150]], [[559, 154], [559, 170]], [[558, 174], [558, 190]], [[559, 194], [559, 208]], [[558, 212], [558, 226]], [[559, 230], [559, 246]], [[558, 250], [558, 264]],
  ];
  leftTree.forEach((l) => seg(l, "#555", 0.9));
  const leftTwigs = [63, 65, 67, 69, 71, 73, 75, 78, 80, 82, 84, 86, 88, 90, 92, 94, 96, 98, 100, 102, 104, 106, 108, 110, 112, 115, 117, 120, 122, 124, 126, 129, 131, 133, 135, 138, 140, 143, 145, 148, 150, 153, 155, 158, 160, 163, 165, 168, 170, 173, 175, 178, 180, 183, 185, 188, 190, 193, 195, 197, 199, 201, 203, 205, 207, 209, 211, 213, 215, 217, 219, 221, 223, 225, 227, 229, 231, 233, 235, 237, 239, 241, 243, 245, 247, 249, 251, 253, 255, 257, 259, 261, 263, 265];
  leftTwigs.forEach((y, i) => seg([[i % 3 === 0 ? 556 : i % 3 === 1 ? 558 : 560, y], [563, y]], "#222", 0.7));
  const rightSpikes = [[63, 3], [66, 4], [69, 2], [72, 2], [75, 4], [78, 3], [82, 6], [85, 2], [88, 3], [92, 4], [95, 2], [98, 3], [102, 4], [106, 6], [109, 2], [112, 3], [116, 2], [120, 2], [124, 4], [128, 3], [132, 2], [136, 5], [140, 2], [145, 3], [150, 3], [155, 2], [160, 4], [164, 8], [168, 3], [172, 2], [176, 4], [180, 3], [184, 2], [188, 4], [194, 8], [198, 5], [201, 3], [204, 3], [208, 4], [212, 2], [216, 3], [220, 3], [225, 2], [230, 4], [234, 2], [238, 7], [242, 3], [246, 3], [250, 2], [254, 2], [258, 3], [262, 5]];
  rightSpikes.forEach(([y, w]) => seg([[762, y], [762 + w, y]], "#222", 0.8));
  hmScaleTicks.forEach((s, i) => txt(s, 789, [67, 91, 114, 138, 162][i], 6.8, "#333", false, "right"));

  /* C */
  txt("C", 3, 354, 18);
  txt("Enrichment in functionnal GOBP terms", 25, 375, 14.1);
  txt("Representative term for each cluster", 101, 404, 11.2);
  txt("GENES DOWN", 359, 403, 14.2, BLUE, false, "center");
  txt("GENES UP", 535, 400, 14.3, ORANGE, false, "center");
  txt("Representative term for each cluster", 593, 400, 11.2);
  enrichPanel([296.5, 418.5, 125.5, 173.5], downTerms, downValues, "#2408f5", "left", -35);
  enrichPanel([471.5, 416.5, 126.5, 174.5], upTerms, upValues, "#dd7426", "right", -30);
  txt("Enrichment _ log (p value)", 359, 616, 10.5, "#222", true, "center");
  txt("Enrichment _ log (p value)", 535, 615, 10.5, "#222", true, "center");
  txt("Top 15 of clusters", 452, 503, 15.5, "#111", true, "center", Math.PI / 2);
  graphic.push({ type: "rect", z: 55, silent: true, shape: { x: 132, y: 486.5, width: 162, height: 14 }, style: { fill: "none", stroke: "#666", lineWidth: 1 } });

  /* D */
  txt("D", 3, 646, 18);
  txt("GENES DOWN", 25, 662, 13.7, BLUE, true);
  txt("in the cluster : Cholesterol biosynthetic process", 125, 662, 13.7, "#111", true);
  const gNet = addGrid(18, 675, 383, 349.5, { show: true, backgroundColor: "#eff3fe", borderWidth: 0 });
  const xNet = xAxes.length;
  xAxes.push({ type: "value", gridIndex: gNet, min: 54, max: 1203, show: false });
  const yNet = yAxes.length;
  yAxes.push({ type: "value", gridIndex: gNet, min: 105, max: 1153, inverse: true, show: false });
  series.push({
    type: "graph", coordinateSystem: "cartesian2d", xAxisIndex: xNet, yAxisIndex: yNet, silent: true, z: 4, roam: false, symbolSize: 17.5,
    data: netNodes.map(([name, x, y, c]) => ({
      name, value: [x, y],
      itemStyle: {
        borderColor: "rgba(60,60,60,0.45)", borderWidth: 0.6,
        color: {
          type: "radial", x: 0.5, y: 0.42, r: 0.62,
          colorStops: [{ offset: 0, color: c }, { offset: 0.62, color: c }, { offset: 0.88, color: "#5a5a50" }, { offset: 1, color: c }],
        },
      },
      label: { show: true, position: [16, -5], formatter: name, fontFamily: FONT, fontSize: 5.4, color: "#333", backgroundColor: "rgba(246,246,226,0.85)", padding: [1, 1] },
    })),
    links: netEdges.map(([source, target, w, type]) => ({
      source, target,
      lineStyle: { width: w, type: type || "solid", curveness: 0, opacity: 1, color: w >= 1.2 ? "#4b4c7e" : w >= 0.9 ? "#74759c" : "#a3a4c2" },
    })),
  });
  series.push({
    type: "scatter", xAxisIndex: xNet, yAxisIndex: yNet, silent: true, z: 6,
    data: netNodes.map((n) => [n[1], n[2]]), symbol: "circle", symbolSize: [12, 5], symbolOffset: [0, -4.5],
    itemStyle: { color: "rgba(255,255,255,0.38)", opacity: 1 },
  });

  /* E */
  txt("E", 423, 687, 18);
  const gE = addGrid(479, 696, 288, 104.5);
  const xE = xAxes.length;
  const fcStyle = { ...axisLine, lineStyle: { color: "#222", width: 1.2 } };
  xAxes.push({
    type: "category", gridIndex: gE, data: fcGenes, position: "bottom", axisLine: fcStyle, axisTick: { show: false },
    axisLabel: { rotate: 90, fontFamily: FONT, fontSize: 8.3, fontWeight: "bold", color: "#111", margin: 5, interval: 0 },
  });
  xAxes.push({ type: "category", gridIndex: gE, data: fcGenes, position: "top", axisLine: fcStyle, axisTick: { show: false }, axisLabel: { show: false } });
  const yE = yAxes.length;
  yAxes.push({
    type: "value", gridIndex: gE, min: -2, max: 0, interval: 0.5, splitLine: { show: false }, axisLine: fcStyle, axisTick: { ...axisTick, length: 3 },
    axisLabel: { fontFamily: FONT, fontSize: 8, fontWeight: "bold", color: "#111", margin: 4, formatter: (v: number) => v.toFixed(1) },
  });
  const groupOf: number[] = fcGroupSizes.flatMap((n, g) => Array(n).fill(g));
  series.push({
    type: "bar", xAxisIndex: xE, yAxisIndex: yE, barWidth: 5.6, silent: true, z: 3,
    data: fcValues.map((value, i) => ({
      value,
      itemStyle: {
        color: fcGroupColors[groupOf[i]], borderColor: "#222", borderWidth: 0.8,
        decal: groupOf[i] === 4 ? { symbol: "rect", symbolSize: 1, color: "#7b5c52", dashArrayX: [1, 0], dashArrayY: [1.5, 1.5], rotation: -Math.PI / 4 } : "none",
      },
    })),
  });
  txt("Log2 (fold change)", 451, 748, 11.6, "#111", false, "center", Math.PI / 2);

  /* F */
  txt("F", 424, 875, 18);
  const base = { cats: ["d8", "d16"], catBold: true, catSize: 10.5, catMargin: 8, barW: 19, capPx: 11, sym: 5.5 };
  dotPanel({ ...base, rect: [497, 903, 57, 116], bars: srebf2Bars, err: srebf2Err, open: srebf2Open, solid: srebf2Solid, max: 1.5, interval: 0.5 });
  dotPanel({ ...base, rect: [597, 903, 57, 116], bars: hmgcrBars, err: hmgcrErr, open: hmgcrOpen, solid: hmgcrSolid, max: 2, interval: 0.5 });
  dotPanel({ ...base, rect: [703, 904, 57, 115], bars: ldlrBars, err: ldlrErr, open: ldlrOpen, solid: ldlrSolid, max: 2.5, interval: 0.5 });
  txt("SREBF2", 520, 885, 12.6, BLUE, true, "center");
  txt("HMGCR", 622, 885, 12.6, BLUE, true, "center");
  txt("LDLR", 720, 887, 12.6, BLUE, true, "center");
  txt("*", 538, 918, 16, RED, true, "center");
  txt("*", 642, 938, 16, RED, true, "center");
  txt("*", 745, 928, 16, RED, true, "center");
  txt("mRNA", 445, 962, 12.2, "#111", false, "center", Math.PI / 2);
  txt("relative expression", 460, 962, 12.2, "#111", false, "center", Math.PI / 2);

  return {
    animation: false,
    backgroundColor: "#ffffff",
    textStyle: { fontFamily: FONT },
    grid: grids, xAxis: xAxes, yAxis: yAxes, series,
    graphic: { elements: graphic },
    visualMap: {
      type: "continuous", seriesIndex: hmIndex, dimension: 2, min: -2.2, max: 2.25, left: 774, top: 61, padding: 0,
      itemWidth: 11, itemHeight: 105, calculable: false, showLabel: false, text: ["", ""], textGap: 0, inRange: { color: hmScale },
    },
  };
}

export default function App() {
  const ref = useRef<HTMLDivElement>(null);
  useEffect(() => {
    grids.length = xAxes.length = yAxes.length = series.length = graphic.length = 0;
    const chart = echarts.init(ref.current!, undefined, { renderer: "svg" });
    chart.setOption(buildOption() as any);
    return () => chart.dispose();
  }, []);
  return <div ref={ref} style={{ position: "absolute", left: 0, top: 0, width: 793, height: 1037 }} />;
}
